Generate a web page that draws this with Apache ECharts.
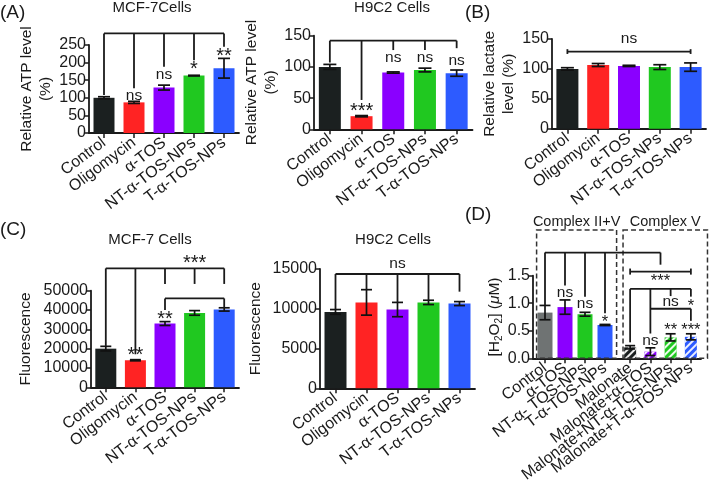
<!DOCTYPE html>
<html><head><meta charset="utf-8">
<script src="https://cdn.jsdelivr.net/npm/echarts@6/dist/echarts.min.js"></script>
<style>html,body{margin:0;padding:0;background:#fff}#c{width:709px;height:495px}</style>
</head><body><div id="c"></div>
<script>
// ---------- data ----------
const catsMain = ['Control', 'Oligomycin', 'α-TOS', 'NT-α-TOS-NPs', 'T-α-TOS-NPs'];
const colorsMain = ['#1b2020', '#ff2323', '#8a00ff', '#20c820', '#2d5bff'];

const atpMcf7 = [100, 87, 129, 163, 184];
const atpMcf7Err = [3, 3, 7, 1, 28];
const ticksAtpMcf7 = [0, 50, 100, 150, 200, 250];

const atpH9c2 = [100, 21, 91, 95, 90];
const atpH9c2Err = [4, 1, 1, 3, 5];
const ticksAtpH9c2 = [0, 50, 100, 150];

const lactate = [100, 106.5, 105, 103, 103];
const lactateErr = [2, 2.5, 1, 4, 7];
const ticksLactate = [0, 50, 100, 150];

const fluoMcf7 = [20000, 14000, 33000, 38500, 40300];
const fluoMcf7Err = [1200, 300, 1000, 1200, 850];
const ticksFluoMcf7 = [0, 10000, 20000, 30000, 40000, 50000];

const fluoH9c2 = [9600, 10800, 9900, 10800, 10650];
const fluoH9c2Err = [300, 1600, 900, 270, 250];
const ticksFluoH9c2 = [0, 5000, 10000, 15000];

const catsH2o2A = ['Control', 'α-TOS', 'NT-α- TOS-NPs', 'T-α-TOS-NPs'];
const colorsH2o2A = ['#6f7373', '#8a00ff', '#20c820', '#2d5bff'];
const h2o2A = [0.83, 0.93, 0.80, 0.605];
const h2o2AErr = [0.13, 0.13, 0.035, 0.01];

const catsH2o2B = ['Malonate', 'Malonate+α-TOS', 'Malonate+NT-α-TOS-NPs', 'Malonate+T-α-TOS-NPs'];
const colorsH2o2B = ['#1b2020', '#8a00ff', '#20c820', '#2d5bff'];
const h2o2B = [0.20, 0.12, 0.38, 0.39];
const h2o2BErr = [0.03, 0.07, 0.065, 0.055];
const ticksH2o2 = [0, 0.5, 1.0, 1.5];

// significance annotations (category index, value)
const sigA1 = { h: [[0, 4, 283]], v: [[0, 283, 108], [1, 283, 127], [2, 283, 188], [3, 283, 207], [4, 283, 245]],
  t: [['ns', 1, 106], ['ns', 2, 165], ['*', 3, 180], ['**', 4, 216]] };
const sigA2 = { h: [[0, 4, 142]], v: [[0, 142, 107], [1, 142, 47], [2, 142, 127], [3, 142, 127], [4, 142, 130]],
  t: [['***', 1, 28], ['ns', 2, 115], ['ns', 3, 115], ['ns', 4, 110]] };
const sigB = { h: [[0, 4, 129]], v: [[0, 125, 133], [4, 125, 133]], t: [['ns', 2, 151]] };
const sigC1 = { h: [[0, 4, 61550], [2, 4, 46000]],
  v: [[0, 61550, 21400], [1, 61550, 17100], [2, 61550, 53500], [3, 61550, 53500], [4, 61550, 53500], [2, 46000, 40000], [4, 46000, 41200]],
  t: [['**', 1, 16700], ['**', 2, 34900], ['***', 3, 64300]] };
const sigC2 = { h: [[0, 4, 14370]], v: [[0, 14370, 9950], [1, 14370, 12440], [2, 14370, 10760], [3, 14370, 11010], [4, 14370, 12150]],
  t: [['ns', 2, 15700]] };
// panel D: [gridIndex, category, value]
const sigDseg = [
  [[6, 0, 1.92], [7, 1.5, 1.92]], [[6, 0, 1.92], [6, 0, 0.97]], [[6, 1, 1.92], [6, 1, 1.32]],
  [[6, 2, 1.92], [6, 2, 1.12]], [[6, 3, 1.92], [6, 3, 0.82]], [[7, 1.5, 1.92], [7, 1.5, 1.70]],
  [[7, 0, 1.575], [7, 3, 1.575]], [[7, 0, 1.52], [7, 0, 1.63]], [[7, 3, 1.52], [7, 3, 1.63]],
  [[7, 0, 1.26], [7, 3, 1.26]], [[7, 0, 1.26], [7, 0, 0.29]], [[7, 1, 1.26], [7, 1, 0.45]],
  [[7, 2, 1.26], [7, 2, 1.13]], [[7, 3, 1.26], [7, 3, 1.12]], [[7, 1, 0.9], [7, 3, 0.9]], [[7, 3, 0.9], [7, 3, 0.68]]
];
const sigDtxt = [['ns', 6, 1, 1.2], ['ns', 6, 2, 1.0], ['*', 6, 3, 0.66], ['***', 7, 1.5, 1.40], ['ns', 7, 2, 1.03],
  ['*', 7, 3, 0.95], ['ns', 7, 1, 0.32], ['**', 7, 2, 0.50], ['***', 7, 3, 0.50]];
const boxesD = [[[6, -0.42, 0], [6, 3.58, 2.33], 'Complex II+V'], [[7, -0.35, 0], [7, 3.82, 2.33], 'Complex V']];

// ---------- layout ----------
const FONT = 'Liberation Sans, Arial, Helvetica, sans-serif';
const INK = '#1a1a1a';
const hatch = { symbol: 'rect', symbolSize: 1, dashArrayX: [1, 0], dashArrayY: [2, 3], rotation: -Math.PI / 4, color: 'rgba(255,255,255,0.9)' };

const panels = [
  { cats: catsMain, vals: atpMcf7, errs: atpMcf7Err, colors: colorsMain, ticks: ticksAtpMcf7, name: 'Relative ATP level\n(%)',
    grid: { left: 89, top: 45, width: 150, height: 88 }, barW: 21, cap: 12, nameGap: 31, sig: sigA1 },
  { cats: catsMain, vals: atpH9c2, errs: atpH9c2Err, colors: colorsMain, ticks: ticksAtpH9c2, name: 'Relative ATP level\n(%)',
    grid: { left: 314, top: 35.7, width: 158.5, height: 93.6 }, barW: 22, cap: 13, nameGap: 25, sig: sigA2 },
  { cats: catsMain, vals: lactate, errs: lactateErr, colors: colorsMain, ticks: ticksLactate, name: 'Relative lactate\nlevel (%)',
    grid: { left: 552, top: 39, width: 154, height: 89.7 }, barW: 22, cap: 13, nameGap: 31, sig: sigB },
  { cats: catsMain, vals: fluoMcf7, errs: fluoMcf7Err, colors: colorsMain, ticks: ticksFluoMcf7, name: 'Fluorescence',
    grid: { left: 91, top: 290.7, width: 148, height: 96.6 }, barW: 21, cap: 11, nameGap: 56, sig: sigC1 },
  { cats: catsMain, vals: fluoH9c2, errs: fluoH9c2Err, colors: colorsMain, ticks: ticksFluoH9c2, name: 'Fluorescence',
    grid: { left: 320, top: 269, width: 155, height: 119.3 }, barW: 22, cap: 11, nameGap: 55, sig: sigC2 },
  // D frame (y axis + continuous x axis line)
  { frame: true, cats: [''], ticks: ticksH2o2, name: '[H{s|2}O{s|2}] ({i|μ}M)',
    grid: { left: 533, top: 275.7, width: 168, height: 82.6 }, nameGap: 23 },
  { sub: true, cats: catsH2o2A, vals: h2o2A, errs: h2o2AErr, colors: colorsH2o2A, ticks: ticksH2o2,
    grid: { left: 535, top: 275.7, width: 80, height: 82.6 }, barW: 15, cap: 11 },
  { sub: true, cats: catsH2o2B, vals: h2o2B, errs: h2o2BErr, colors: colorsH2o2B, ticks: ticksH2o2, hatch: true,
    grid: { left: 620, top: 275.7, width: 81, height: 82.6 }, barW: 12, cap: 10 }
];

const grids = [], xAxes = [], yAxes = [], series = [];
panels.forEach((p, gi) => {
  grids.push(Object.assign({ containLabel: false }, p.grid));
  xAxes.push({
    type: 'category', gridIndex: gi, data: p.cats,
    axisLine: { show: !p.sub, lineStyle: { color: INK, width: 1.8 } },
    axisTick: { show: !p.frame, alignWithLabel: true, length: 5, lineStyle: { color: INK, width: 1.5 } },
    axisLabel: { show: !p.frame, rotate: 37, interval: 0, fontSize: 16, color: INK, margin: 8, fontFamily: FONT }
  });
  const t = p.ticks;
  yAxes.push({
    type: 'value', gridIndex: gi, show: !p.sub, min: t[0], max: t[t.length - 1], interval: t[1] - t[0],
    axisLine: { show: true, lineStyle: { color: INK, width: 1.8 } },
    axisTick: { show: true, length: 5, lineStyle: { color: INK, width: 1.5 } },
    splitLine: { show: false },
    axisLabel: { fontSize: 16, color: INK, margin: 3, fontFamily: FONT,
      formatter: v => (t[1] - t[0] < 1 ? v.toFixed(1) : String(v)) },
    name: p.name || '', nameLocation: 'middle', nameRotate: 90, nameGap: p.nameGap || 30,
    nameTextStyle: { fontSize: 15.5, lineHeight: 19, color: INK, fontFamily: FONT,
      rich: { s: { fontSize: 10, lineHeight: 19, verticalAlign: 'bottom', color: INK, fontFamily: FONT },
              i: { fontSize: 15.5, lineHeight: 19, fontStyle: 'italic', color: INK, fontFamily: FONT } } }
  });
  if (p.vals) {
    series.push({
      type: 'bar', xAxisIndex: gi, yAxisIndex: gi, barWidth: p.barW, silent: true, z: 2,
      data: p.vals.map((v, i) => {
        const st = { color: p.colors[i] };
        if (p.hatch) st.decal = hatch;
        return { value: v, itemStyle: st };
      })
    });
    const cap = p.cap;
    series.push({
      type: 'custom', xAxisIndex: gi, yAxisIndex: gi, silent: true, z: 5,
      encode: { x: 0, y: [1, 2] },
      data: p.vals.map((v, i) => [i, v - p.errs[i], v + p.errs[i]]),
      renderItem: (params, api) => {
        const x = api.value(0);
        const lo = api.coord([x, api.value(1)]);
        const hi = api.coord([x, api.value(2)]);
        const st = { stroke: '#111', lineWidth: 1.7 };
        return { type: 'group', children: [
          { type: 'line', shape: { x1: lo[0], y1: lo[1], x2: hi[0], y2: hi[1] }, style: st },
          { type: 'line', shape: { x1: hi[0] - cap / 2, y1: hi[1], x2: hi[0] + cap / 2, y2: hi[1] }, style: st },
          { type: 'line', shape: { x1: lo[0] - cap / 2, y1: lo[1], x2: lo[0] + cap / 2, y2: lo[1] }, style: st }
        ] };
      }
    });
  }
});

const chart = echarts.init(document.getElementById('c'));
chart.setOption({
  animation: false,
  textStyle: { fontFamily: FONT },
  grid: grids, xAxis: xAxes, yAxis: yAxes, series: series
});

// ---------- annotations through the axes' scales ----------
function px(g, x, y) {
  const i = Math.floor(x), f = x - i;
  const a = chart.convertToPixel({ gridIndex: g }, [i, y]);
  if (f === 0) return a;
  const b = chart.convertToPixel({ gridIndex: g }, [i + 1, y]);
  return [a[0] + (b[0] - a[0]) * f, a[1]];
}
const G = [];
function seg(a, b) {
  const p = px(a[0], a[1], a[2]), q = px(b[0], b[1], b[2]);
  G.push({ type: 'line', z: 50, shape: { x1: p[0], y1: p[1], x2: q[0], y2: q[1] }, style: { stroke: INK, lineWidth: 1.8 } });
}
function txt(s, x, y, size, align) {
  G.push({ type: 'text', z: 51, x: x, y: y, style: { text: s, fontSize: size, fontFamily: FONT, fill: INK,
    align: align || 'center', textAlign: align || 'center', verticalAlign: 'middle', textVerticalAlign: 'middle' } });
}
function sigLabel(s, g, x, y, starSize) {
  const p = px(g, x, y);
  txt(s, p[0], p[1], s.indexOf('*') >= 0 ? starSize : 15.5);
}
[sigA1, sigA2, sigB, sigC1, sigC2].forEach((s, g) => {
  s.h.forEach(h => seg([g, h[0], h[2]], [g, h[1], h[2]]));
  s.v.forEach(v => seg([g, v[0], v[1]], [g, v[0], v[2]]));
  s.t.forEach(t => sigLabel(t[0], g, t[1], t[2], 20));
});
sigDseg.forEach(s => seg(s[0], s[1]));
sigDtxt.forEach(t => sigLabel(t[0], t[1], t[2], t[3], 16.5));
boxesD.forEach(b => {
  const p = px(b[0][0], b[0][1], b[0][2]), q = px(b[1][0], b[1][1], b[1][2]);
  G.push({ type: 'rect', z: 40, shape: { x: p[0], y: q[1], width: q[0] - p[0], height: p[1] - q[1] },
    style: { fill: 'none', stroke: '#333', lineWidth: 1.5, lineDash: [5, 3] } });
  txt(b[2], (p[0] + q[0]) / 2, q[1] - 8, 14.5);
});
// panel letters and titles
txt('(A)', 0, 13, 19, 'left');
txt('MCF-7Cells', 152, 8, 15);
txt('H9C2 Cells', 392, 8, 15);
txt('(B)', 465, 13, 19, 'left');
txt('(C)', 0, 230, 19, 'left');
txt('MCF-7 Cells', 150, 240, 15);
txt('H9C2 Cells', 393, 240, 15);
txt('(D)', 465, 215, 19, 'left');

chart.setOption({ graphic: { elements: G } });
</script>
</body></html>
